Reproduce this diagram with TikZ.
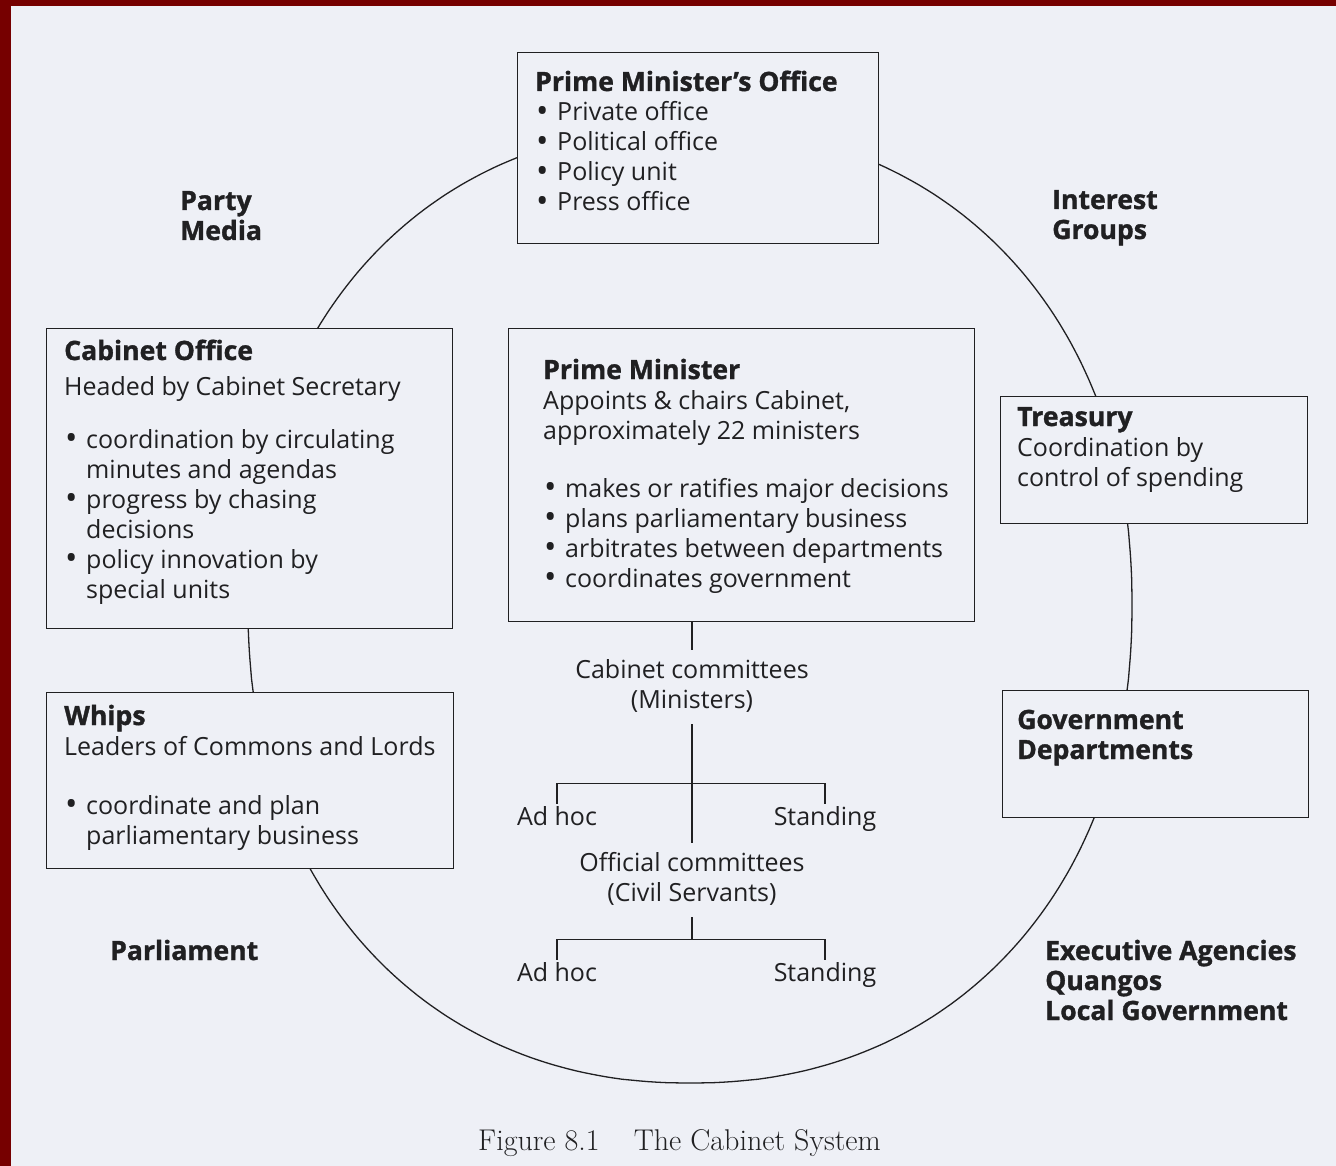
\documentclass[tikz,border=0pt]{standalone}
\usepackage{fontspec}
\setmainfont{Open Sans}[BoldFeatures={FakeBold=1.2}]
\newfontfamily\capfont{Latin Modern Roman}
\usetikzlibrary{calc}
\definecolor{bg}{RGB}{238,240,246}
\definecolor{ink}{RGB}{32,32,34}
\definecolor{frame}{RGB}{118,0,0}
\newcommand{\ttl}[1]{{\fontsize{26.6}{30}\selectfont\bfseries #1}}
\newcommand{\bul}{\makebox[22pt][l]{\hspace{1pt}\raisebox{-1.2pt}{\fontsize{33}{30}\selectfont\textbullet}}}
\newcommand{\ind}{\hspace*{22pt}}
\begin{document}
\begin{tikzpicture}[x=1pt,y=-1pt,
  every node/.style={text=ink, font=\fontsize{25}{30}\selectfont},
  boxstyle/.style={draw=ink, line width=1.4pt, fill=bg, rectangle, inner sep=0pt, anchor=north west},
  txt/.style={anchor=base west, inner sep=0pt},
  lbl/.style={anchor=base west, inner sep=0pt, font=\fontsize{26.6}{30}\selectfont\bfseries},
  tree/.style={anchor=base, inner xsep=0pt, inner ysep=7pt},
  leaf/.style={anchor=base, inner xsep=0pt, inner ysep=1pt, text height=20pt},
  link/.style={draw=ink, line width=1.3pt},
  ring/.style={draw=ink, line width=1.3pt}
]
\useasboundingbox (0,0) rectangle (1336,1166);
\fill[frame] (0,0) rectangle (1336,1166);
\fill[bg] (11,6) rectangle (1336,1166);

% the surrounding ring
\draw[ring] plot[domain=0.5:360.5, samples=361, variable=\t]
  ({690+442*sign(cos(\t))*abs(cos(\t))^0.93},{605+478*sign(sin(\t))*abs(sin(\t))^0.93}) -- cycle;

% boxes
\node[boxstyle, minimum width=361pt, minimum height=191pt] (pmo) at (517,52) {};
\node[boxstyle, minimum width=406pt, minimum height=300pt] (co) at (46,328) {};
\node[boxstyle, minimum width=466pt, minimum height=293pt] (pm) at (508,328) {};
\node[boxstyle, minimum width=307pt, minimum height=127pt] (tr) at (1000,396) {};
\node[boxstyle, minimum width=407pt, minimum height=176pt] (wh) at (46,692) {};
\node[boxstyle, minimum width=306pt, minimum height=127pt] (gd) at (1002,690) {};

% box texts
\node[txt] (pmo-t) at (535,91) {\begin{tabular}[t]{@{}l@{}}\ttl{Prime Minister's Office}\\
  \bul Private office\\ \bul Political office\\ \bul Policy unit\\ \bul Press office\end{tabular}};
\node[txt] (co-t) at (64,360) {\begin{tabular}[t]{@{}l@{}}\ttl{Cabinet Office}\\[5pt]
  Headed by Cabinet Secretary\\[23pt]
  \bul coordination by circulating\\ \ind minutes and agendas\\
  \bul progress by chasing\\ \ind decisions\\
  \bul policy innovation by\\ \ind special units\end{tabular}};
\node[txt] (pm-t) at (543,379) {\begin{tabular}[t]{@{}l@{}}\ttl{Prime Minister}\\
  Appoints \& chairs Cabinet,\\ approximately 22 ministers\\[28pt]
  \bul makes or ratifies major decisions\\ \bul plans parliamentary business\\
  \bul arbitrates between departments\\ \bul coordinates government\end{tabular}};
\node[txt] (tr-t) at (1017,426) {\begin{tabular}[t]{@{}l@{}}\ttl{Treasury}\\
  Coordination by\\ control of spending\end{tabular}};
\node[txt] (wh-t) at (64,725) {\begin{tabular}[t]{@{}l@{}}\ttl{Whips}\\
  Leaders of Commons and Lords\\[29pt]
  \bul coordinate and plan\\ \ind parliamentary business\end{tabular}};
\node[txt] (gd-t) at (1017,729) {\begin{tabular}[t]{@{}l@{}}\ttl{Government}\\ \ttl{Departments}\end{tabular}};

% free labels
\node[lbl] (party) at (180,210) {\begin{tabular}[t]{@{}l@{}}Party\\ Media\end{tabular}};
\node[lbl] (interest) at (1052,209) {\begin{tabular}[t]{@{}l@{}}Interest\\ Groups\end{tabular}};
\node[lbl] (parl) at (110,960) {Parliament};
\node[lbl] (exec) at (1045,960) {\begin{tabular}[t]{@{}l@{}}Executive Agencies\\ Quangos\\ Local Government\end{tabular}};

% committees tree
\node[tree] (cabc) at (692,678) {\begin{tabular}[t]{@{}c@{}}Cabinet committees\\ (Ministers)\end{tabular}};
\node[tree] (offc) at (692,871) {\begin{tabular}[t]{@{}c@{}}Official committees\\ (Civil Servants)\end{tabular}};
\node[leaf] (ah1) at (557,825) {Ad hoc};
\node[leaf] (st1) at (825,825) {Standing};
\node[leaf] (ah2) at (557,981) {Ad hoc};
\node[leaf] (st2) at (825,981) {Standing};
\coordinate (bar1) at ($(ah1.north)+(0,-20)$);
\coordinate (bar2) at ($(ah2.north)+(0,-20)$);

\draw[link] (pm.south -| cabc.north) -- (cabc.north);
\draw[link] (cabc.south) -- (offc.north);
\draw[link] (ah1.north) -- (bar1) -| (st1.north);
\draw[link] (offc.south) -- (offc.south |- bar2);
\draw[link] (ah2.north) -- (bar2) -| (st2.north);

% caption
\node[anchor=base west, inner sep=0pt, font=\capfont\fontsize{30}{34}\selectfont] (cap) at (478,1150)
  {Figure 8.1\hspace{34pt}The Cabinet System};
\end{tikzpicture}
\end{document}
